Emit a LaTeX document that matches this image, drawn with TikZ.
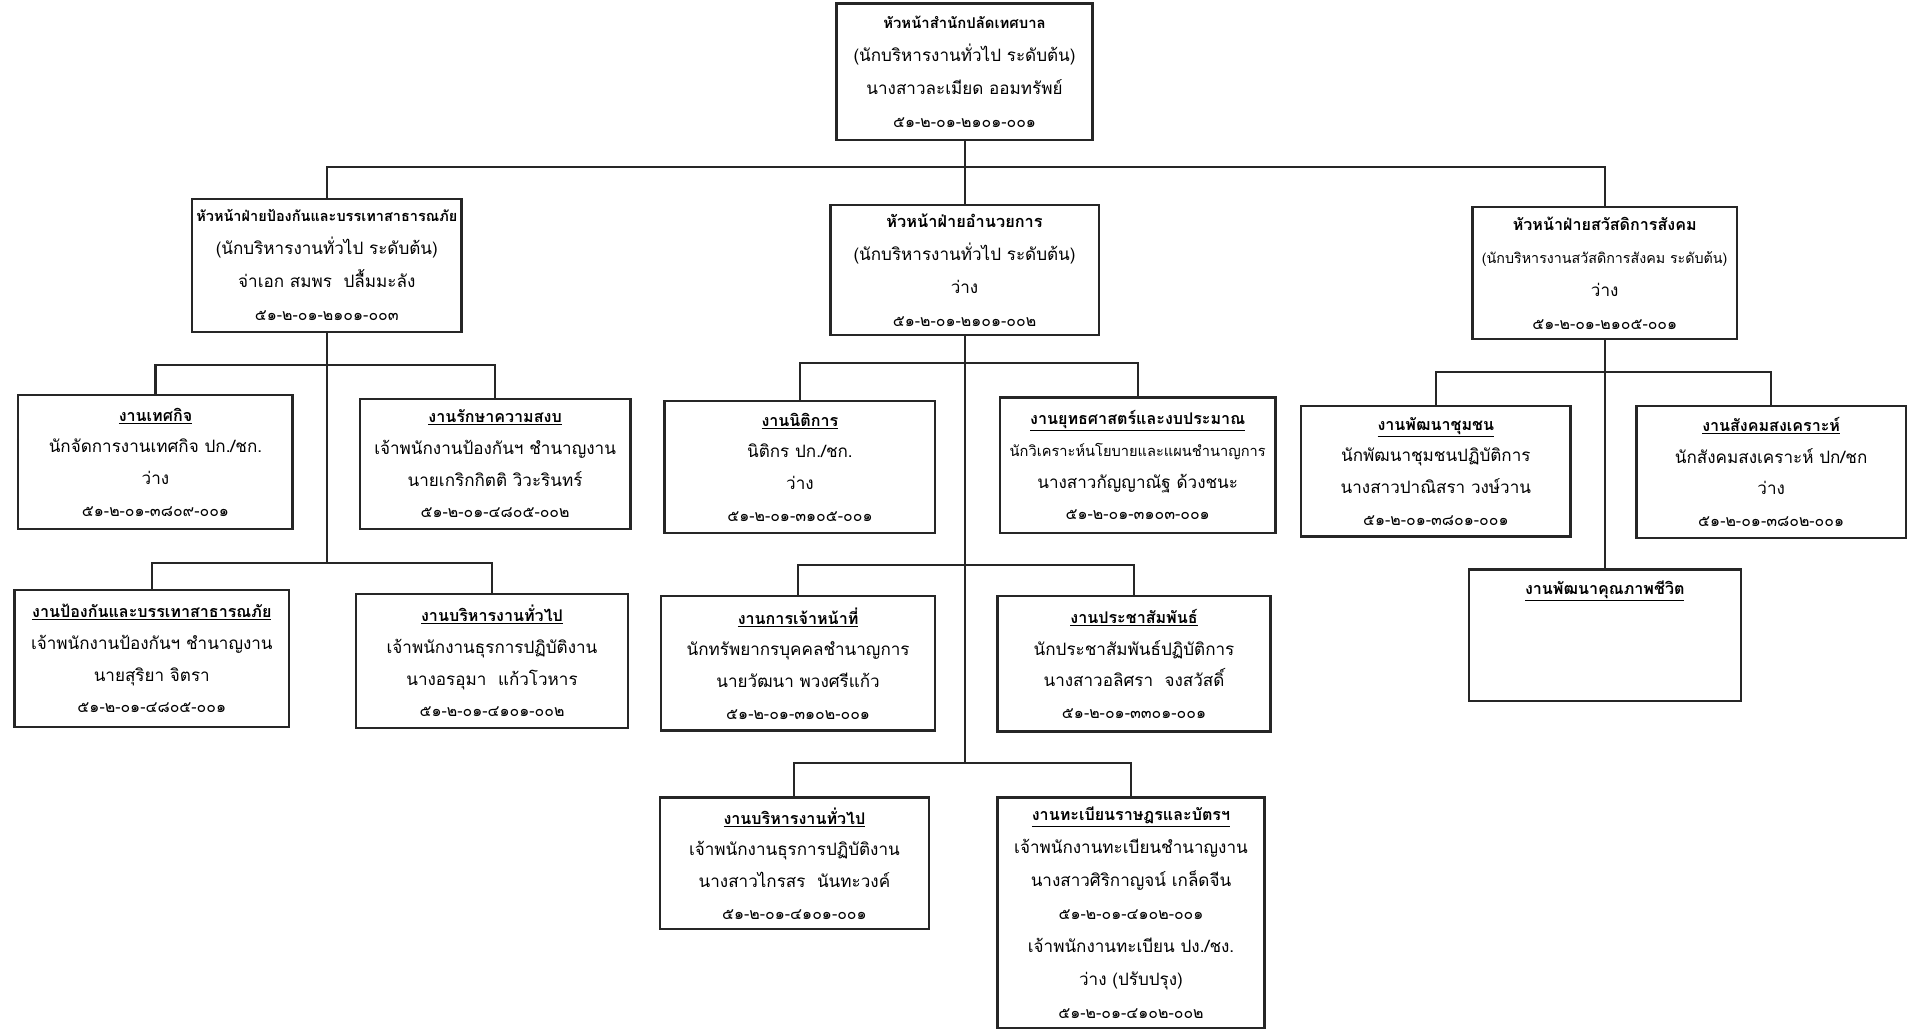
\documentclass[tikz,border=0pt]{standalone}
\usepackage{fontspec}
\newfontfamily\thaifont[Script=Thai]{Loma}
\newcommand\unittitle[1]{{\fontsize{13.2}{26}\selectfont\textbf{\underline{#1}}}}
\newcommand\headtitle[2][13]{{\fontsize{#1}{27}\selectfont\textbf{#2}}}
\newcommand\posnum[1]{{\fontsize{13}{26}\selectfont #1}}
\begin{document}
\begin{tikzpicture}[x=1pt,y=-1pt,
  box/.style={draw=black!85, line width=1.9pt, align=center, inner sep=0pt, fill=white,
    font=\thaifont\fontsize{14}{26}\selectfont},
  headbox/.style={box, font=\thaifont\fontsize{14}{27}\selectfont},
  wh/.style 2 args={minimum width=#1pt, minimum height=#2pt},
  conn/.style={draw=black!85, line width=1.7pt}]
\useasboundingbox (0,0) rectangle (1568,845);
\fill[white] (0,0) rectangle (1568,845);

% ---------- top ----------
\node[headbox, wh={210}{112}] (top) at (791,59)
 {\headtitle[12.2]{หัวหน้าสำนักปลัดเทศบาล}\\(นักบริหารงานทั่วไป ระดับต้น)\\นางสาวละเมียด ออมทรัพย์\\\posnum{๕๑-๒-๐๑-๒๑๐๑-๐๐๑}};

% ---------- division heads ----------
\node[headbox, wh={221}{109}] (hL) at (268,217.5)
 {\headtitle[11.9]{หัวหน้าฝ่ายป้องกันและบรรเทาสาธารณภัย}\\(นักบริหารงานทั่วไป ระดับต้น)\\จ่าเอก สมพร\ \ ปลื้มมะลัง\\\posnum{๕๑-๒-๐๑-๒๑๐๑-๐๐๓}};
\node[headbox, wh={220}{107}] (hM) at (791,221.5)
 {\headtitle[13.4]{หัวหน้าฝ่ายอำนวยการ}\\(นักบริหารงานทั่วไป ระดับต้น)\\ว่าง\\\posnum{๕๑-๒-๐๑-๒๑๐๑-๐๐๒}};
\node[headbox, wh={217}{108}] (hR) at (1316,224)
 {\headtitle[13.2]{หัวหน้าฝ่ายสวัสดิการสังคม}\\{\fontsize{11.7}{27}\selectfont(นักบริหารงานสวัสดิการสังคม ระดับต้น)}\\ว่าง\\\posnum{๕๑-๒-๐๑-๒๑๐๕-๐๐๑}};

% ---------- left division ----------
\node[box, wh={225}{110}] (tesakit) at (127.5,379)
 {\unittitle{งานเทศกิจ}\\นักจัดการงานเทศกิจ ปก./ชก.\\ว่าง\\\posnum{๕๑-๒-๐๑-๓๘๐๙-๐๐๑}};
\node[box, wh={222}{107}] (raksa) at (406,380.5)
 {\unittitle{งานรักษาความสงบ}\\เจ้าพนักงานป้องกันฯ ชำนาญงาน\\นายเกริกกิตติ วิวะรินทร์\\\posnum{๕๑-๒-๐๑-๔๘๐๕-๐๐๒}};
\node[box, wh={225}{112}] (pongkan) at (124.5,540)
 {\unittitle{งานป้องกันและบรรเทาสาธารณภัย}\\เจ้าพนักงานป้องกันฯ ชำนาญงาน\\นายสุริยา จิตรา\\\posnum{๕๑-๒-๐๑-๔๘๐๕-๐๐๑}};
\node[box, wh={223}{110}] (borihanL) at (403.5,542)
 {\unittitle{งานบริหารงานทั่วไป}\\เจ้าพนักงานธุรการปฏิบัติงาน\\นางอรอุมา\ \ แก้วโวหาร\\\posnum{๕๑-๒-๐๑-๔๑๐๑-๐๐๒}};

% ---------- middle division ----------
\node[box, wh={222}{108}] (nitikan) at (656,383)
 {\unittitle{งานนิติการ}\\นิติกร ปก./ชก.\\ว่าง\\\posnum{๕๑-๒-๐๑-๓๑๐๕-๐๐๑}};
\node[box, wh={226}{111}] (yutthasat) at (933,381.5)
 {\unittitle{งานยุทธศาสตร์และงบประมาณ}\\{\fontsize{12}{26}\selectfont นักวิเคราะห์นโยบายและแผนชำนาญการ}\\นางสาวกัญญาณัฐ ด้วงชนะ\\\posnum{๕๑-๒-๐๑-๓๑๐๓-๐๐๑}};
\node[box, wh={225}{110}] (kanjaonathi) at (654.5,544)
 {\unittitle{งานการเจ้าหน้าที่}\\นักทรัพยากรบุคคลชำนาญการ\\นายวัฒนา พวงศรีแก้ว\\\posnum{๕๑-๒-๐๑-๓๑๐๒-๐๐๑}};
\node[box, wh={224}{111}] (pracha) at (930,544.5)
 {\unittitle{งานประชาสัมพันธ์}\\นักประชาสัมพันธ์ปฏิบัติการ\\นางสาวอลิศรา\ \ จงสวัสดิ์\\\posnum{๕๑-๒-๐๑-๓๓๐๑-๐๐๑}};
\node[box, wh={221}{108}] (borihanM) at (651.5,708)
 {\unittitle{งานบริหารงานทั่วไป}\\เจ้าพนักงานธุรการปฏิบัติงาน\\นางสาวไกรสร\ \ นันทะวงค์\\\posnum{๕๑-๒-๐๑-๔๑๐๑-๐๐๑}};
\node[headbox, wh={219}{189}] (tabian) at (927.5,748.5)
 {\unittitle{งานทะเบียนราษฎรและบัตรฯ}\\เจ้าพนักงานทะเบียนชำนาญงาน\\นางสาวศิริกาญจน์ เกล็ดจีน\\\posnum{๕๑-๒-๐๑-๔๑๐๒-๐๐๑}\\เจ้าพนักงานทะเบียน ปง./ชง.\\ว่าง (ปรับปรุง)\\\posnum{๕๑-๒-๐๑-๔๑๐๒-๐๐๒}};

% ---------- right division ----------
\node[box, wh={221}{107}] (chumchon) at (1177.5,386.5)
 {\unittitle{งานพัฒนาชุมชน}\\นักพัฒนาชุมชนปฏิบัติการ\\นางสาวปาณิสรา วงษ์วาน\\\posnum{๕๑-๒-๐๑-๓๘๐๑-๐๐๑}};
\node[box, wh={221}{108}] (sangkhom) at (1452.5,387)
 {\unittitle{งานสังคมสงเคราะห์}\\นักสังคมสงเคราะห์ ปก/ชก\\ว่าง\\\posnum{๕๑-๒-๐๑-๓๘๐๒-๐๐๑}};
\node[box, wh={223}{108}] (khunnaphap) at (1316,521)
 {\unittitle{งานพัฒนาคุณภาพชีวิต}\\\mbox{}\\\mbox{}\\\mbox{}};

% ---------- bus coordinates ----------
\coordinate (tb) at (791,137);
\coordinate (lb1) at (268,299);
\coordinate (lb2) at (268,462);
\coordinate (mb1) at (791,298);
\coordinate (mb2) at (791,463);
\coordinate (mb3) at (791,626);
\coordinate (rb) at (1316,305);

% ---------- connectors ----------
\draw[conn] (top.south) -- (hM.north);
\draw[conn] (hL.north) |- (tb) -| (hR.north);

\draw[conn] (hL.south) -- (lb2);
\draw[conn] (tesakit.north) |- (lb1) -| (raksa.north);
\draw[conn] (pongkan.north) |- (lb2) -| (borihanL.north);

\draw[conn] (hM.south) -- (mb3);
\draw[conn] (nitikan.north) |- (mb1) -| (yutthasat.north);
\draw[conn] (kanjaonathi.north) |- (mb2) -| (pracha.north);
\draw[conn] (borihanM.north) |- (mb3) -| (tabian.north);

\draw[conn] (hR.south) -- (khunnaphap.north);
\draw[conn] (chumchon.north) |- (rb) -| (sangkhom.north);
\end{tikzpicture}
\end{document}
